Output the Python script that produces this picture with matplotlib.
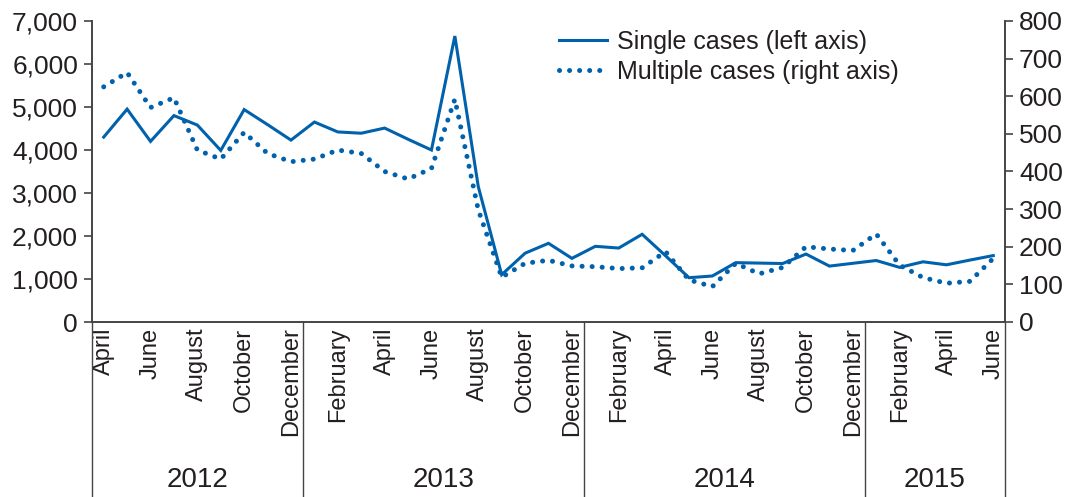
import matplotlib.pyplot as plt
import numpy as np

# monthly data, April 2012 - June 2015
single = [4300, 4950, 4200, 4800, 4580, 3990, 4940, 4590, 4230,
          4650, 4420, 4390, 4510, 4250, 4000, 6650, 3150, 1100, 1600, 1830, 1480,
          1760, 1720, 2040, 1540, 1030, 1070, 1380, 1370, 1360, 1580, 1300, 1365,
          1430, 1270, 1400, 1330, 1440, 1545]
multiple = [625, 663, 570, 596, 457, 433, 504, 448, 426,
            433, 457, 448, 400, 380, 408, 592, 298, 119, 156, 164, 149,
            147, 142, 144, 187, 112, 94, 156, 128, 145, 200, 194, 190,
            234, 151, 118, 103, 108, 169]
month_names = ['January', 'February', 'March', 'April', 'May', 'June', 'July',
               'August', 'September', 'October', 'November', 'December']
start_month = 3  # April
years = ['2012', '2013', '2014', '2015']
year_bounds = [-0.5, 8.5, 20.5, 32.5, 38.5]

blue = '#0061AD'
dark = '#231F20'
axcol = '#444444'

plt.rcParams['font.family'] = ['Liberation Sans', 'DejaVu Sans']

fig = plt.figure(figsize=(10.72, 4.97), dpi=100)
ax = fig.add_axes([92/1072, 1-322/497, (1005-92)/1072, 301/497])
ax2 = ax.twinx()

x = np.arange(len(single))
l1, = ax.plot(x, single, color=blue, lw=2.2, solid_joinstyle='miter')
l2, = ax2.plot(x, multiple, color=blue, lw=3.6, linestyle=(0, (0.01, 2.0)),
               dash_capstyle='round')

ax.set_xlim(-0.5, 38.5)
ax.set_ylim(0, 7000)
ax2.set_ylim(0, 800)
ax.set_yticks(range(0, 7001, 1000))
ax.set_yticklabels([f'{v:,}' for v in range(0, 7001, 1000)])
ax2.set_yticks(range(0, 801, 100))

labels = [month_names[(start_month + i) % 12] for i in x]
ax.set_xticks(x[::2])
ax.set_xticklabels(labels[::2], rotation=90, va='top', ha='center',
                   fontsize=17, color=dark)
ax.tick_params(axis='x', length=0, pad=4)
ax.tick_params(axis='y', length=6, width=1.2, color=axcol, labelsize=19,
               labelcolor=dark, pad=4)
ax2.tick_params(axis='y', length=6, width=1.2, color=axcol, labelsize=19,
                labelcolor=dark, pad=4)

for a in (ax, ax2):
    a.spines['top'].set_visible(False)
    for s in ('left', 'right', 'bottom'):
        a.spines[s].set_color(axcol)
        a.spines[s].set_linewidth(1.2)

# year group separators and labels
for b in year_bounds:
    ax.plot([b, b], [0, -0.6], transform=ax.get_xaxis_transform(),
            color=axcol, lw=1.0, clip_on=False)
for i, yr in enumerate(years):
    c = (year_bounds[i] + year_bounds[i + 1]) / 2
    ax.text(c, -0.525, yr, transform=ax.get_xaxis_transform(),
            ha='center', va='center', fontsize=20, color=dark)

ax2.legend([l1, l2], ['Single cases (left axis)', 'Multiple cases (right axis)'],
           loc='upper left', bbox_to_anchor=(0.487, 1.045), frameon=False,
           fontsize=18, handlelength=1.9, handletextpad=0.4,
           labelspacing=0.25, labelcolor=dark)

fig.savefig('out.png', dpi=100)
